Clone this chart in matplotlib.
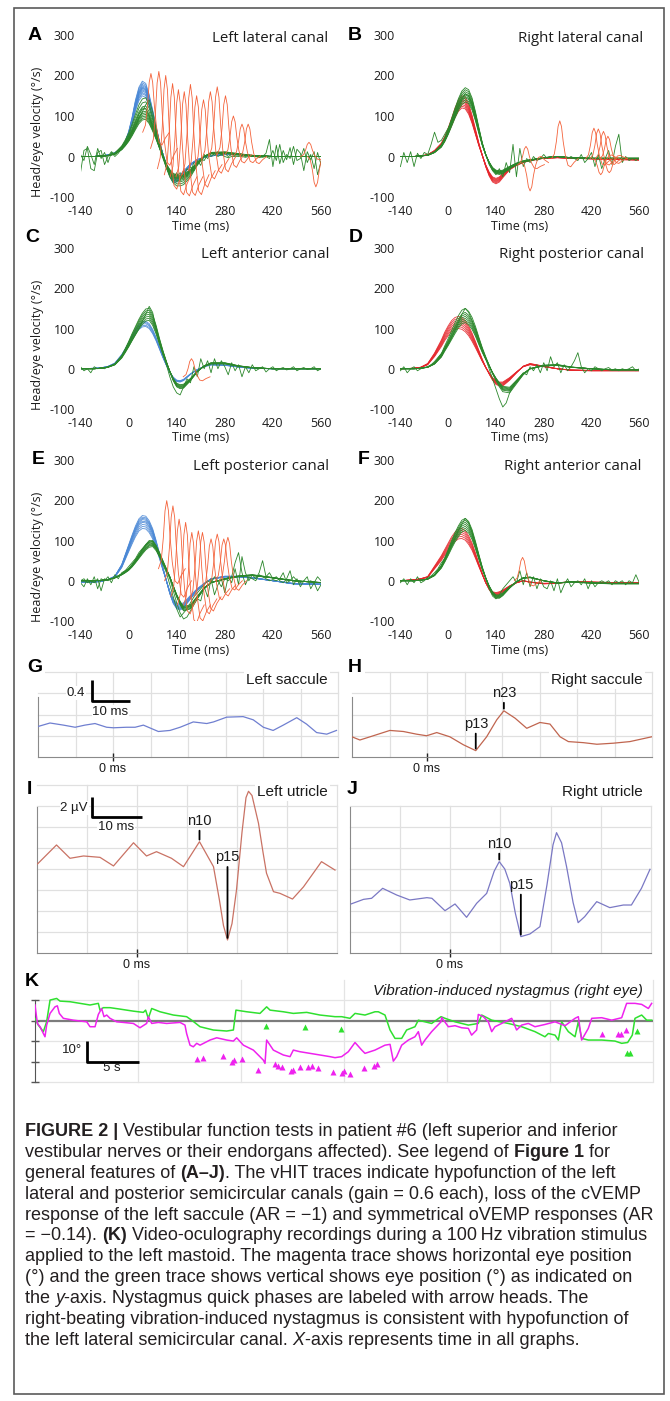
import numpy as np
import matplotlib
matplotlib.use("Agg")
import matplotlib.pyplot as plt
from matplotlib.patches import Rectangle

plt.rcParams["axes.unicode_minus"] = False
plt.rcParams["font.family"] = ["Liberation Sans", "DejaVu Sans"]

# ======================= DATA =======================
# vHIT (A-F): time knots (ms) for the average head / eye velocity shapes
T_KNOTS = [-140, -100, -80, -60, -40, -20, -10, 0, 10, 20, 30, 40, 50, 60, 70, 80, 90, 100,
           110, 120, 130, 140, 150, 160, 180, 200, 220, 240, 280, 320, 360, 420, 480, 560]
T_FINE = list(range(-140, 561, 10))
X_TICKS = [-140, 0, 140, 280, 420, 560]
Y_TICKS = [-100, 0, 100, 200, 300]

A_HEAD_SHAPE = [0, 0, 0.01, 0.02, 0.05, 0.12, 0.2, 0.33, 0.52, 0.75, 0.92, 1.0, 0.97, 0.82, 0.62, 0.4, 0.2, 0.03,
                -0.13, -0.27, -0.35, -0.34, -0.3, -0.24, -0.12, -0.05, -0.01, 0.01, 0.03, 0.03, 0.01, 0, 0, 0]
A_HEAD_PEAKS = [150, 155, 158, 162, 165, 168, 170, 172, 175, 178, 182, 186]
A_EYE_SHAPE = [0, 0, 0.01, 0.02, 0.06, 0.18, 0.28, 0.4, 0.55, 0.72, 0.88, 0.98, 1.0, 0.88, 0.68, 0.46, 0.22, 0.0,
               -0.2, -0.35, -0.45, -0.5, -0.5, -0.48, -0.35, -0.15, 0.0, 0.07, 0.08, 0.05, 0.02, 0, 0, 0]
A_EYE_PEAKS = [92, 96, 100, 104, 108, 112, 118, 125, 135, 145]
A_WIGGLE_1 = [-40, 15, 20, -30, -35, 10, 15, -20, 0, 12,
              5, 15, 25, 35, 50, 65, 85, 105, 120, 118,
              100, 75, 48, 20, -5, -28, -45, -52, -40, -58,
              -35, -50, -25, -35, -10, -22, 5, -5, 10, 3,
              12, 4, 8, 0, 5, 2, 0, 3, 0, 2,
              0, 0, -3, 0, 8, 42, -25, 28, -18, 15,
              -8, 22, -20, 18, 8, -35, 12, -8, 12, -45,
              -12]
A_WIGGLE_2 = [5, -10, 25, 5, -20, 20, -5, 10, -15, 10,
              0, 8, 20, 32, 45, 60, 75, 95, 110, 128,
              140, 110, 70, 35, 5, -20, -40, -55, -48, -40,
              -50, -30, -38, -15, -20, -5, -10, 5, 0, 8,
              0, 5, 0, -3, 0, 0, 2, 0, -2, 0,
              0, 2, 0, -2, 0, -5, 15, -10, 30, -15,
              5, -5, 25, -10, -5, 20, -15, 5, -30, 10,
              -20]
A_SACC_T = [65, 88, 108, 128, 145, 162, 180, 198, 218, 238, 258, 282, 305, 330, 348, 525, 545]
A_SACC_PEAK = [205, 210, 200, 180, 165, 160, 178, 150, 140, 160, 172, 150, 100, 80, 80, 35, -75]
A_SACC_BASE = [60, 20, -30, -45, -50, -50, -45, -35, -20, -5, 0, 5, 5, 2, 0, 0, 0]

B_HEAD_SHAPE = [0, 0, 0.01, 0.03, 0.1, 0.22, 0.33, 0.47, 0.63, 0.8, 0.93, 1.0, 0.98, 0.87, 0.68, 0.45, 0.22, 0.02,
                -0.17, -0.32, -0.42, -0.45, -0.42, -0.35, -0.22, -0.15, -0.1, -0.07, -0.03, -0.02, -0.03, -0.04,
                -0.05, -0.06]
B_HEAD_PEAKS = [120, 124, 128, 132, 136, 140, 145, 150]
B_EYE_SHAPE = [0, 0, 0.01, 0.02, 0.07, 0.17, 0.27, 0.4, 0.55, 0.7, 0.84, 0.95, 1.0, 0.97, 0.85, 0.65, 0.42, 0.2,
               0.03, -0.1, -0.2, -0.25, -0.26, -0.25, -0.18, -0.12, -0.08, -0.06, -0.02, 0.0, -0.02, -0.03,
               -0.03, -0.03]
B_EYE_PEAKS = [135, 140, 145, 148, 152, 155, 160, 165, 170]
B_WIGGLE = [-25, 10, -15, 12, -25, 8, -5, 10, 5, 30,
            60, 35, 40, 55, 70, 85, 100, 120, 140, 155,
            150, 130, 100, 65, 30, 5, -20, -35, -45, -30,
            -50, -15, -40, 30, -50, 20, -25, -5, -15, 0,
            -10, -5, 5, -5, 0, -3, 0, -2, 0, -5,
            0, -5, -10, 5, -15, -5, 10, -25, 5, -30,
            -5, 15, -20, 25, 55, -15, 0, -10, -5, -10,
            -5]
B_SACC_T = [228, 240, 327, 427, 440, 447, 455, 468, 472]
B_SACC_PEAK = [25, -85, 88, 70, 68, -45, 62, 50, -40]
B_SACC_BASE = [-20, -15, -5, -5, -5, -5, -5, -5, -5]

C_HEAD_SHAPE = [0, 0.01, 0.02, 0.05, 0.12, 0.3, 0.42, 0.55, 0.7, 0.83, 0.93, 0.99, 1.0, 0.95, 0.83, 0.66, 0.46,
                0.26, 0.08, -0.08, -0.2, -0.27, -0.28, -0.25, -0.12, -0.02, 0.05, 0.09, 0.08, 0.04, 0.01, 0, 0, 0]
C_HEAD_PEAKS = [105, 108, 112, 115, 118]
C_EYE_SHAPE = [0, 0, 0.01, 0.03, 0.08, 0.22, 0.33, 0.45, 0.58, 0.7, 0.82, 0.92, 0.99, 1.0, 0.9, 0.72, 0.5, 0.3,
               0.12, -0.05, -0.2, -0.3, -0.33, -0.32, -0.2, -0.05, 0.05, 0.1, 0.1, 0.05, 0.02, 0, 0, 0]
C_EYE_PEAKS = [120, 125, 130, 135, 140, 145, 150]
C_WIGGLE = [5, -5, 0, -10, 5, 0, 3, 0, 5, 8,
            12, 20, 30, 42, 55, 70, 85, 100, 118, 135,
            155, 140, 100, 65, 35, 10, -20, -45, -60, -65,
            -45, -25, -35, 5, -20, 25, 0, 20, -10, 25,
            0, 20, 5, -15, 15, -5, 10, -20, 5, -10,
            10, -5, 0, 5, -8, 0, 5, -5, 0, 3,
            -3, 0, 5, -5, 0, 3, -2, 0, 5, -5,
            0]
C_SACC_T = [183]
C_SACC_PEAK = [25]
C_SACC_BASE = [-20]

D_HEAD_SHAPE = [0, 0.01, 0.03, 0.1, 0.3, 0.55, 0.7, 0.82, 0.92, 0.98, 1.0, 0.98, 0.92, 0.82, 0.68, 0.52, 0.35, 0.18,
                0.03, -0.1, -0.22, -0.3, -0.33, -0.33, -0.22, -0.08, 0.05, 0.1, 0.05, 0.0, -0.03, -0.04, -0.04,
                -0.04]
D_HEAD_PEAKS = [100, 105, 110, 115, 120, 125, 130]
D_EYE_SHAPE = [0, 0, 0.01, 0.03, 0.1, 0.25, 0.38, 0.5, 0.63, 0.76, 0.88, 0.97, 1.0, 0.95, 0.85, 0.7, 0.52, 0.35,
               0.2, 0.06, -0.08, -0.2, -0.3, -0.38, -0.4, -0.25, -0.1, 0.0, 0.06, 0.07, 0.03, 0.0, -0.02, -0.02]
D_EYE_PEAKS = [115, 120, 125, 130, 135, 140, 150]
D_WIGGLE = [-5, 5, -10, 0, 5, -5, 0, 3, 5, 10,
            18, 28, 38, 50, 62, 78, 95, 115, 135, 150,
            140, 120, 100, 75, 50, 25, 0, -25, -50, -75,
            -95, -85, -60, -45, -30, -20, -10, -15, 5, -5,
            10, -10, 15, -5, 30, 5, 15, -10, 10, -5,
            5, 20, 40, 5, -10, 0, -5, 5, 0, -5,
            0, 3, -3, 0, -5, 0, -3, 0, 5, -5,
            0]
D_SACC_T = []
D_SACC_PEAK = []
D_SACC_BASE = []

E_HEAD_SHAPE = [-0.02, -0.02, -0.01, 0.02, 0.07, 0.25, 0.4, 0.55, 0.7, 0.84, 0.95, 1.0, 0.99, 0.92, 0.8, 0.62,
                0.42, 0.2, 0.0, -0.2, -0.35, -0.43, -0.45, -0.42, -0.28, -0.15, -0.05, 0.03, 0.07, 0.07, 0.05,
                0.0, -0.05, -0.06]
E_HEAD_PEAKS = [130, 135, 140, 145, 148, 152, 155, 158, 162]
E_EYE_SHAPE = [0, 0, 0.01, 0.03, 0.08, 0.17, 0.23, 0.3, 0.4, 0.52, 0.65, 0.78, 0.9, 0.98, 1.0, 0.88, 0.7, 0.5,
               0.3, 0.1, -0.15, -0.4, -0.6, -0.75, -0.7, -0.45, -0.2, -0.05, 0.05, 0.12, 0.15, 0.08, 0.0, -0.05]
E_EYE_PEAKS = [85, 88, 90, 92, 95, 98, 100]
E_WIGGLE_1 = [-5, -15, 5, -10, 10, -20, 5, 0, 10, -5,
              15, 5, 20, 25, 35, 45, 55, 70, 80, 90,
              100, 98, 85, 65, 45, 25, 5, -25, -55, -80,
              -95, -90, -75, -60, -45, -50, -15, -40, 5, -35,
              -10, 5, -30, 10, -5, 30, -10, 60, 20, 0,
              15, 5, 20, 50, 10, 20, 5, 10, 0, -5,
              5, 25, -10, 5, -15, 0, 10, -20, -5, -25,
              -10]
E_WIGGLE_2 = [0, 5, -5, 0, -5, 5, -25, 5, 0, 5,
              8, 12, 18, 25, 30, 40, 52, 65, 78, 88,
              95, 92, 80, 60, 40, 20, -10, -40, -70, -90,
              -80, -70, -55, -40, -30, -20, -10, 0, -5, 10,
              0, -15, 5, 0, 10, 45, 70, 20, -10, 10,
              5, 0, 15, 10, 5, 0, 3, 0, 5, 20,
              -5, 0, 10, 0, -5, 0, -3, 0, -5, 10,
              0]
E_SACC_T = [111, 129, 147, 166, 184, 203, 215, 240, 258, 277, 289]
E_SACC_PEAK = [199, 186, 153, 145, 120, 124, 120, 104, 116, 104, 108]
E_SACC_BASE = [30, 0, -40, -60, -60, -45, -40, -20, -10, 0, 0]

F_HEAD_SHAPE = [0, 0.02, 0.04, 0.08, 0.28, 0.48, 0.6, 0.72, 0.84, 0.93, 0.99, 1.0, 0.96, 0.86, 0.72, 0.53, 0.33,
                0.14, -0.04, -0.17, -0.26, -0.28, -0.26, -0.22, -0.12, -0.04, 0.0, -0.03, -0.06, -0.05, -0.02,
                -0.03, -0.04, -0.04]
F_HEAD_PEAKS = [105, 110, 115, 120, 125, 130]
F_EYE_SHAPE = [0, 0, 0.01, 0.03, 0.1, 0.25, 0.37, 0.5, 0.64, 0.77, 0.88, 0.97, 1.0, 0.95, 0.82, 0.63, 0.42, 0.22,
               0.05, -0.1, -0.22, -0.28, -0.28, -0.24, -0.12, -0.02, 0.05, 0.06, 0.0, -0.04, -0.02, -0.04, -0.05,
               -0.05]
F_EYE_PEAKS = [125, 130, 135, 140, 145, 150, 155]
F_WIGGLE = [-5, 5, -10, 5, -5, 10, -5, 0, 8, 12,
            20, 30, 45, 55, 70, 88, 105, 125, 140, 155,
            145, 120, 90, 60, 30, 5, -20, -38, -45, -35,
            -20, -10, 0, 10, -5, 25, -10, 20, -15, 10,
            -20, 5, -15, -20, 0, -25, 5, -30, -10, 5,
            -15, -5, 0, -10, 5, -20, 0, -15, -5, 0,
            -5, 0, -10, 0, -5, 0, -10, 0, -5, 15,
            -5]
F_SACC_T = [218]
F_SACC_PEAK = [58]
F_SACC_BASE = [0]

# saccade bump shape (relative time in ms, relative amplitude)
SAC_DT = [-24, -16, -10, -5, 0, 5, 10, 16, 24, 32, 42, 54]
SAC_SHAPE = [0, 0.12, 0.45, 0.85, 1.0, 0.85, 0.45, 0.1, -0.18, -0.22, -0.1, 0]

# cVEMP (G, H): time ms, amplitude (grid units of 0.4)
G_T = [-20.2, -16.8, -13.2, -10.1, -7.5, -4.8, -1.7, 0.1, 3.6, 5.9, 8.1, 12.1, 15.2, 17.9, 21.4, 25.0, 26.8,
       30.3, 34.7, 37.4, 40.1, 42.7, 45.4, 49.0, 51.6, 54.3, 57.0, 59.6]
G_V = [0.57, 0.64, 0.60, 0.56, 0.60, 0.63, 0.56, 0.55, 0.56, 0.56, 0.60, 0.48, 0.50, 0.56, 0.66, 0.63, 0.66,
       0.75, 0.76, 0.70, 0.56, 0.50, 0.60, 0.74, 0.62, 0.46, 0.43, 0.50]
H_T = [-20.0, -17.9, -15.2, -9.9, -6.3, -2.8, -0.1, 2.6, 6.1, 9.7, 13.0, 15.9, 18.6, 20.5, 23.5, 26.6, 30.1,
       32.8, 35.5, 37.7, 41.7, 45.3, 49.7, 54.1, 59.9]
H_V = [0.38, 0.32, 0.38, 0.50, 0.48, 0.43, 0.40, 0.46, 0.38, 0.23, 0.12, 0.38, 0.70, 0.87, 0.73, 0.54, 0.65,
       0.62, 0.38, 0.29, 0.27, 0.24, 0.26, 0.29, 0.38]
H_PEAKS = [("p13", 13.0), ("n23", 20.5)]

# oVEMP (I, J): time ms, amplitude µV
I_T = [-19.9, -16.1, -13.4, -10.7, -7.4, -4.7, -0.7, 1.9, 3.9, 6.9, 9.3, 12.5, 15.3, 16.5, 17.3, 18.1, 19.0,
       19.9, 21.0, 21.8, 22.3, 23.0, 24.3, 25.2, 25.9, 27.3, 28.6, 31.1, 33.3, 36.9, 39.6]
I_V = [8.48, 10.29, 9.02, 9.24, 9.11, 8.29, 10.5, 9.24, 9.65, 9.02, 8.22, 10.6, 8.22, 5.0, 2.6, 1.24, 2.8,
       6.0, 11.5, 14.8, 15.4, 15.0, 12.35, 9.6, 7.6, 5.84, 5.68, 5.14, 6.3, 8.7, 7.9]
I_PEAKS = [("n10", 12.5), ("p15", 18.1)]
J_T = [-19.7, -17.2, -15.6, -13.4, -10.6, -8.0, -4.6, -3.6, -1.0, 1.0, 3.3, 5.3, 7.3, 8.8, 9.8, 10.9, 11.9,
       13.0, 14.1, 15.9, 17.9, 19.3, 20.5, 21.2, 22.2, 23.2, 24.5, 25.5, 26.8, 29.2, 31.8, 34.5, 36.1, 38.1, 39.8]
J_V = [4.67, 5.11, 5.21, 6.16, 5.52, 5.05, 5.27, 5.21, 4.03, 4.67, 3.4, 4.73, 5.68, 7.8, 8.7, 8.0, 6.63,
       3.8, 1.56, 1.81, 2.51, 6.5, 10.3, 11.46, 10.5, 8.22, 4.8, 2.89, 3.46, 4.89, 4.32, 4.57, 4.57, 6.16, 7.97]
J_PEAKS = [("n10", 9.8), ("p15", 14.1)]

# Video-oculography (K): time s, eye position deg
K_GREEN_T = [0, 0.32, 0.81, 1.13, 1.46, 2.10, 2.43, 3.40, 4.37, 5.34,
             6.15, 6.31, 6.63, 7.28, 8.25, 9.55, 10.52, 10.74, 11.0, 11.33,
             12.14, 13.43, 14.72, 15.21, 16.02, 17.31, 18.61, 19.26, 19.51, 20.55,
             21.84, 22.49, 22.82, 24.11, 25.08, 26.38, 27.67, 29.13, 29.77, 30.58,
             31.07, 32.04, 33.01, 33.33, 33.98, 34.47, 34.95, 35.60, 36.08, 36.89,
             37.22, 37.86, 38.51, 39.42, 39.81, 40.78, 42.07, 43.04, 43.37, 44.34,
             45.95, 47.25, 48.54, 49.51, 49.84, 50.49, 50.81, 51.13, 51.78, 52.43,
             52.75, 53.07, 53.72, 55.02, 56.31, 56.96, 57.54, 57.99, 58.25, 58.9,
             59.39, 59.87]
K_GREEN_D = [1.1, -2.2, -5.4, -0.6, 10.0, 10.8, 9.5, 9.2, 8.4, 7.6,
             8.4, 5.1, 6.3, 6.3, 5.6, 4.6, 4.0, 5.1, 1.1, 5.9,
             4.3, 2.7, 1.9, 0.2, -3.0, -4.6, -5.1, -4.6, 5.1, 4.3,
             3.5, 6.7, 5.1, 4.3, 3.5, 4.0, 2.7, 1.9, 1.9, 1.1,
             3.5, 2.7, 4.3, 4.3, 2.7, -4.6, -8.7, -8.7, -4.6, -3.0,
             0.2, -0.6, -1.4, 1.9, 1.1, -0.6, -2.2, -1.4, 2.7, 0.2,
             -1.4, -3.0, -5.4, -7.9, -6.3, -7.1, -9.5, -0.6, -5.4, -7.9,
             -0.6, -8.7, -9.5, -9.5, -10.0, -11.1, -10.7, -7.1, 1.1, 2.7,
             0.2, 0.2]
K_MAG_T = [0, 0.23, 0.49, 0.81, 0.97, 1.13, 1.46, 1.94, 2.17, 2.36,
           2.75, 3.72, 5.02, 5.34, 5.83, 6.15, 6.47, 6.70, 6.96, 7.28,
           7.93, 8.58, 9.55, 10.19, 10.84, 11.0, 11.33, 11.97, 12.78, 14.08,
           14.56, 14.72, 15.05, 15.37, 15.70, 16.02, 16.99, 17.64, 18.61, 19.26,
           19.58, 20.23, 21.2, 22.17, 22.33, 22.49, 23.14, 24.11, 24.76, 25.08,
           25.73, 26.7, 27.67, 28.64, 29.13, 29.77, 30.42, 31.07, 31.72, 32.04,
           33.01, 33.98, 34.47, 34.79, 35.11, 35.60, 36.25, 36.89, 37.22, 37.54,
           37.86, 38.51, 39.42, 39.48, 40.13, 40.78, 41.42, 42.07, 42.39, 42.88,
           43.04, 43.53, 44.01, 44.34, 44.66, 45.31, 46.28, 46.76, 47.25, 47.9,
           48.54, 49.51, 50.49, 51.46, 52.43, 52.75, 53.07, 53.72, 54.05, 55.02,
           55.99, 56.96, 57.44, 58.25, 58.9, 59.55, 59.87]
K_MAG_D = [7.6, -1.4, -3.0, -6.3, -7.9, -2.2, 3.5, 6.7, 7.2, 3.5,
           1.1, 0.2, -0.6, -3.0, -3.0, 3.0, 5.9, 1.9, 2.7, 1.1,
           -0.6, -0.9, -1.4, -3.5, -1.4, 1.9, -1.4, -0.9, -1.4, -0.9,
           -2.2, -6.3, -12.0, -12.8, -11.1, -12.0, -9.5, -8.4, -9.5, -10.0,
           -8.4, -12.0, -14.4, -19.3, -20.9, -9.5, -14.4, -16.8, -17.6, -14.4,
           -15.2, -16.0, -16.8, -17.6, -18.1, -17.6, -15.2, -10.7, -14.4, -16.0,
           -14.4, -12.0, -11.6, -19.8, -17.6, -12.0, -9.5, -7.9, -5.4, -12.0,
           -9.5, -5.4, -0.6, 1.5, -3.0, -2.5, -3.5, -3.8, -7.1, -4.6,
           3.0, 1.9, -0.6, -5.4, -3.0, -1.4, 1.1, -4.6, -2.2, -1.4,
           -3.0, -1.9, -0.6, -2.5, 1.1, 1.9, -9.5, -3.8, 1.1, 1.4,
           0.2, 1.4, 8.4, 8.4, 7.9, 5.9, 8.4]
K_MAG_TRI_T = [15.70, 16.34, 18.22, 19.09, 19.35, 20.06, 21.62, 23.30, 23.62, 23.95,
               24.82, 25.02, 25.73, 26.54, 26.86, 27.51, 28.96, 29.77, 30.03, 30.58,
               31.97, 32.95, 33.17, 55.02, 56.57, 56.89, 57.35]
K_MAG_TRI_D = [-18.8, -18.1, -17.2, -20.1, -19.3, -18.8, -24.1, -21.4, -22.0, -22.8,
               -24.6, -24.1, -22.5, -22.5, -22.0, -23.0, -25.3, -25.4, -24.5, -26.3,
               -23.3, -22.2, -21.4, -6.7, -6.6, -6.6, -4.6]
K_GREEN_TRI_T = [22.39, 26.25, 29.71, 57.44, 57.77, 58.48]
K_GREEN_TRI_D = [-2.5, -3.0, -4.1, -16.0, -16.0, -5.1]

CAPTION = [
    [("FIGURE 2 | ", "bold", "normal"), ("Vestibular function tests in patient #6 (left superior and inferior", "normal", "normal")],
    [("vestibular nerves or their endorgans affected). See legend of ", "normal", "normal"), ("Figure 1", "bold", "normal"), (" for", "normal", "normal")],
    [("general features of ", "normal", "normal"), ("(A\u2013J)", "bold", "normal"), (". The vHIT traces indicate hypofunction of the left", "normal", "normal")],
    [("lateral and posterior semicircular canals (gain = 0.6 each), loss of the cVEMP", "normal", "normal")],
    [("response of the left saccule (AR = \u22121) and symmetrical oVEMP responses (AR", "normal", "normal")],
    [("= \u22120.14). ", "normal", "normal"), ("(K)", "bold", "normal"), (" Video-oculography recordings during a 100\u2009Hz vibration stimulus", "normal", "normal")],
    [("applied to the left mastoid. The magenta trace shows horizontal eye position", "normal", "normal")],
    [("(\u00b0) and the green trace shows vertical shows eye position (\u00b0) as indicated on", "normal", "normal")],
    [("the ", "normal", "normal"), ("y", "normal", "italic"), ("-axis. Nystagmus quick phases are labeled with arrow heads. The", "normal", "normal")],
    [("right-beating vibration-induced nystagmus is consistent with hypofunction of", "normal", "normal")],
    [("the left lateral semicircular canal. ", "normal", "normal"), ("X", "normal", "italic"), ("-axis represents time in all graphs.", "normal", "normal")],
]

# ======================= STYLE / LAYOUT =======================
BLUE = "#4a88d6"
GREEN = "#2b872b"
ORANGE = "#f4623a"
RED = "#e5262b"
W, H = 670, 1401
VF = ["Open Sans", "DejaVu Sans"]
AF = ["Liberation Sans", "DejaVu Sans"]
TXT = "#1c1c1c"

fig = plt.figure(figsize=(W / 100, H / 100), dpi=100)
fig.patch.set_facecolor("white")


def ax_px(x0, y0, x1, y1):
    return fig.add_axes([x0 / W, 1 - y1 / H, (x1 - x0) / W, (y1 - y0) / H])


def ftext(x, y, s, **kw):
    return fig.text(x / W, 1 - y / H, s, **kw)


# outer frame
fig.add_artist(Rectangle((14 / W, 1 - 1394 / H), (664 - 14) / W, (1394 - 8) / H,
                         transform=fig.transFigure, fill=False, edgecolor="#5a5a5a", lw=1.2))

VHIT = [
    dict(L="A", title="Left lateral canal", rect=(80.5, 35, 321, 197), hs=A_HEAD_SHAPE, hp=A_HEAD_PEAKS, hc=BLUE,
         es=A_EYE_SHAPE, ep=A_EYE_PEAKS, wig=[A_WIGGLE_1, A_WIGGLE_2], sac=(A_SACC_T, A_SACC_PEAK, A_SACC_BASE),
         lxy=(34.5, 35), txy=(328, 39), xly=227, ylab=True),
    dict(L="B", title="Right lateral canal", rect=(400.4, 35, 639.3, 197), hs=B_HEAD_SHAPE, hp=B_HEAD_PEAKS, hc=RED,
         es=B_EYE_SHAPE, ep=B_EYE_PEAKS, wig=[B_WIGGLE], sac=(B_SACC_T, B_SACC_PEAK, B_SACC_BASE),
         lxy=(355, 35), txy=(643, 39), xly=227, ylab=False),
    dict(L="C", title="Left anterior canal", rect=(80.5, 248, 321, 409), hs=C_HEAD_SHAPE, hp=C_HEAD_PEAKS, hc=BLUE,
         es=C_EYE_SHAPE, ep=C_EYE_PEAKS, wig=[C_WIGGLE], sac=(C_SACC_T, C_SACC_PEAK, C_SACC_BASE),
         lxy=(32, 238), txy=(329, 254), xly=438, ylab=True),
    dict(L="D", title="Right posterior canal", rect=(400.4, 248, 639.3, 409), hs=D_HEAD_SHAPE, hp=D_HEAD_PEAKS, hc=RED,
         es=D_EYE_SHAPE, ep=D_EYE_PEAKS, wig=[D_WIGGLE], sac=(D_SACC_T, D_SACC_PEAK, D_SACC_BASE),
         lxy=(356, 238), txy=(644, 254), xly=438, ylab=False),
    dict(L="E", title="Left posterior canal", rect=(80.5, 460, 321, 621), hs=E_HEAD_SHAPE, hp=E_HEAD_PEAKS, hc=BLUE,
         es=E_EYE_SHAPE, ep=E_EYE_PEAKS, wig=[E_WIGGLE_1, E_WIGGLE_2], sac=(E_SACC_T, E_SACC_PEAK, E_SACC_BASE),
         lxy=(38, 460), txy=(329, 467), xly=650, ylab=True),
    dict(L="F", title="Right anterior canal", rect=(400.4, 460, 639.3, 621), hs=F_HEAD_SHAPE, hp=F_HEAD_PEAKS, hc=RED,
         es=F_EYE_SHAPE, ep=F_EYE_PEAKS, wig=[F_WIGGLE], sac=(F_SACC_T, F_SACC_PEAK, F_SACC_BASE),
         lxy=(364, 460), txy=(641, 467), xly=650, ylab=False),
]

tk = np.array(T_KNOTS)
for p in VHIT:
    ax = ax_px(*p["rect"])
    ax.set_xlim(-140, 560)
    ax.set_ylim(-100, 300)
    ax.patch.set_alpha(0)
    for s in ax.spines.values():
        s.set_visible(False)
    ax.set_xticks(X_TICKS)
    ax.set_xticklabels([str(v) for v in X_TICKS], fontfamily=VF, fontsize=9, color=TXT)
    ax.set_yticks(Y_TICKS)
    ax.set_yticklabels([str(v) for v in Y_TICKS], fontfamily=VF, fontsize=9, color=TXT)
    ax.tick_params(length=0)
    ax.tick_params(axis="x", pad=5.5)
    ax.tick_params(axis="y", pad=4)
    for pk in p["hp"]:
        ax.plot(tk, pk * np.array(p["hs"]), color=p["hc"], lw=0.6, alpha=0.9, zorder=2)
    for pk in p["ep"]:
        ax.plot(tk, pk * np.array(p["es"]), color=GREEN, lw=0.6, zorder=3)
    for w in p["wig"]:
        ax.plot(T_FINE, w, color=GREEN, lw=0.6, zorder=3)
    st, spk, sbs = p["sac"]
    for tt, pk, bs in zip(st, spk, sbs):
        ax.plot(tt + np.array(SAC_DT), bs + (pk - bs) * np.array(SAC_SHAPE), color=ORANGE, lw=0.6, zorder=4)
    x0, _, x1, _ = p["rect"]
    ftext((x0 + x1) / 2, p["xly"], "Time (ms)", ha="center", va="center", fontsize=9, family=VF, color=TXT)
    if p["ylab"]:
        ftext(38, p["rect"][1] + 97, "Head/eye velocity (\u00b0/s)", rotation=90, ha="center", va="center",
              fontsize=9, family=VF, color=TXT)
    ftext(p["lxy"][0], p["lxy"][1], p["L"], ha="center", va="center", fontsize=14, fontweight="bold",
          family=AF, color="black")
    ftext(p["txy"][0], p["txy"][1], p["title"], ha="right", va="center", fontsize=10.8, family=VF, color=TXT)

GRID_C = "#e0e0e0"
AXIS_C = "#8a8a8a"


def vemp_axes(rect, xlim, ylim, vgrid, hgrid, left_top, t, v, color, zero_label_pad):
    ax = ax_px(*rect)
    ax.set_xlim(*xlim)
    ax.set_ylim(*ylim)
    ax.patch.set_alpha(0)
    for g in vgrid:
        ax.plot([g, g], [0, hgrid[-1]], color=GRID_C, lw=0.9, zorder=0, clip_on=False)
    for g in hgrid:
        ax.plot([xlim[0], xlim[1]], [g, g], color=GRID_C, lw=0.9, zorder=0, clip_on=False)
    for k in ("top", "right"):
        ax.spines[k].set_visible(False)
    ax.spines["bottom"].set_color(AXIS_C)
    ax.spines["left"].set_color(AXIS_C)
    ax.spines["left"].set_bounds(0, left_top)
    ax.set_yticks([])
    ax.set_xticks([0])
    ax.set_xticklabels(["0 ms"], fontsize=9, color=TXT, family=AF)
    ax.tick_params(axis="x", direction="inout", length=6, width=1, color="#222222", pad=zero_label_pad)
    ax.plot(t, v, color=color, lw=0.9, zorder=3)
    return ax


def mark_peaks(ax, t, v, peaks, lens):
    for (name, tp), L in zip(peaks, lens):
        i = int(np.argmin(np.abs(np.array(t) - tp)))
        ax.annotate("", xy=(t[i], v[i]), xytext=(0, L), textcoords="offset pixels", xycoords="data",
                    arrowprops=dict(arrowstyle="-", lw=1.3, color="black", shrinkA=0, shrinkB=1.5))
        ax.annotate(name, xy=(t[i], v[i]), xytext=(0, L + 10), textcoords="offset pixels", ha="center",
                    va="center", fontsize=10.5, family=AF, color=TXT)


# G
axG = vemp_axes((38, 672, 338, 757), (-20, 60), (0, 1.6), [-10, 0, 10, 20, 30, 40, 50, 60],
                [0.4, 0.8, 1.2, 1.6], 1.13, G_T, G_V, "#6f7fd0", 1.5)
axG.plot([-5.6, -5.6, 4.4], [1.45, 1.05, 1.05], color="black", lw=2, zorder=5, solid_capstyle="butt")
ftext(85, 693, "0.4", ha="right", va="center", fontsize=9.5, family=AF, color=TXT,
      bbox=dict(boxstyle="square,pad=0.05", fc="white", ec="none"))
ftext(110.5, 712, "10 ms", ha="center", va="center", fontsize=9.5, family=AF, color=TXT,
      bbox=dict(boxstyle="square,pad=0.05", fc="white", ec="none"))
# H
axH = vemp_axes((352, 672, 652, 757), (-20, 60), (0, 1.6), [-10, 0, 10, 20, 30, 40, 50, 60],
                [0.4, 0.8, 1.2, 1.6], 1.13, H_T, H_V, "#c0654f", 1.5)
mark_peaks(axH, H_T, H_V, H_PEAKS, [17, 8])
# I
axI = vemp_axes((37, 785, 337, 953), (-20, 40), (0, 16), [-10, 0, 10, 20, 30, 40],
                [2, 4, 6, 8, 10, 12, 14, 16], 13.9, I_T, I_V, "#c97264", 1.5)
mark_peaks(axI, I_T, I_V, I_PEAKS, [11, 73])
axI.plot([-9, -9, 1], [14.9, 13.0, 13.0], color="black", lw=2, zorder=5, solid_capstyle="butt")
ftext(88, 808, "2 \u00b5V", ha="right", va="center", fontsize=9.5, family=AF, color=TXT,
      bbox=dict(boxstyle="square,pad=0.05", fc="white", ec="none"))
ftext(116, 827, "10 ms", ha="center", va="center", fontsize=9.5, family=AF, color=TXT,
      bbox=dict(boxstyle="square,pad=0.05", fc="white", ec="none"))
# J
axJ = vemp_axes((349.5, 785, 651, 953), (-20, 40), (0, 16), [-10, 0, 10, 20, 30, 40],
                [2, 4, 6, 8, 10, 12, 14], 13.9, J_T, J_V, "#7a78c4", 1.5)
mark_peaks(axJ, J_T, J_V, J_PEAKS, [8, 42])

for (x, y, s) in [(34.5, 668, "G"), (355, 668, "H"), (29.5, 790, "I"), (352.5, 790, "J"), (32, 981, "K")]:
    ftext(x, y, s, ha="center", va="center", fontsize=14, fontweight="bold", family=AF, color="black",
          bbox=dict(boxstyle="square,pad=0.15", fc="white", ec="none"))
for (x, y, s) in [(328, 680, "Left saccule"), (643, 680, "Right saccule"), (328, 792, "Left utricle"),
                  (643, 792, "Right utricle")]:
    ftext(x, y, s, ha="right", va="center", fontsize=11, family=AF, color=TXT,
          bbox=dict(boxstyle="square,pad=0.15", fc="white", ec="none"))

# K
axK = ax_px(35, 980, 653, 1084.1)
axK.set_xlim(0, 60)
axK.set_ylim(-31, 19.8)
axK.patch.set_alpha(0)
for g in [10, 20, 30, 40, 50, 60]:
    axK.plot([g, g], [-30, 19.8], color="#e4e4e4", lw=0.9, zorder=0, clip_on=False)
for g in [10, -10, -20, -30]:
    axK.plot([0, 60], [g, g], color="#e4e4e4", lw=0.9, zorder=0)
axK.plot([0, 60], [0, 0], color="#7c7c7c", lw=1.6, zorder=1)
for k in ("top", "right", "bottom"):
    axK.spines[k].set_visible(False)
axK.spines["left"].set_color("#555555")
axK.spines["left"].set_bounds(-30, 10)
axK.set_xticks([])
axK.set_yticks([10, 0, -10, -20, -30])
axK.tick_params(axis="y", direction="inout", length=6, width=1, color="#555555", labelleft=False)
axK.plot(K_GREEN_T, K_GREEN_D, color="#2fe02f", lw=1.1, zorder=3)
axK.plot(K_MAG_T, K_MAG_D, color="#ee22ee", lw=1.1, zorder=4)
axK.plot(K_MAG_TRI_T, K_MAG_TRI_D, ls="none", marker="^", ms=4.5, color="#ee22ee", mec="none", zorder=5)
axK.plot(K_GREEN_TRI_T, K_GREEN_TRI_D, ls="none", marker="^", ms=4.5, color="#2fe02f", mec="none", zorder=5)
axK.plot([5.05, 5.05, 10.05], [-10, -20, -20], color="black", lw=2, zorder=6, solid_capstyle="butt")
ftext(82, 1050, "10\u00b0", ha="right", va="center", fontsize=9.5, family=AF, color=TXT)
ftext(112, 1068, "5 s", ha="center", va="center", fontsize=9.5, family=AF, color=TXT)
ftext(643, 991, "Vibration-induced nystagmus (right eye)", ha="right", va="center", fontsize=11,
      fontstyle="italic", family=AF, color=TXT, bbox=dict(boxstyle="square,pad=0.15", fc="white", ec="none"))

# caption
renderer = fig.canvas.get_renderer()


def seg_width(s, **kw):
    t1 = fig.text(0, 0, s + "|", **kw)
    w1 = t1.get_window_extent(renderer).width
    t1.remove()
    t2 = fig.text(0, 0, "|", **kw)
    w2 = t2.get_window_extent(renderer).width
    t2.remove()
    return w1 - w2


CAP_X0 = 25
CAP_TARGET = 630  # width of the widest caption line (line 5)
ref_w = seg_width(CAPTION[4][0][0], fontsize=12, family=AF)
CAP_FS = 12 * CAP_TARGET / ref_w
for k, line in enumerate(CAPTION):
    x = CAP_X0
    yb = 1136 + 20.9 * k
    for s, wt, sty in line:
        kw = dict(fontsize=CAP_FS, family=AF, fontweight=wt, fontstyle=sty)
        ftext(x, yb, s, ha="left", va="baseline", color="#231f20", **kw)
        x += seg_width(s, **kw)

fig.savefig("out.png", dpi=100, facecolor="white")
